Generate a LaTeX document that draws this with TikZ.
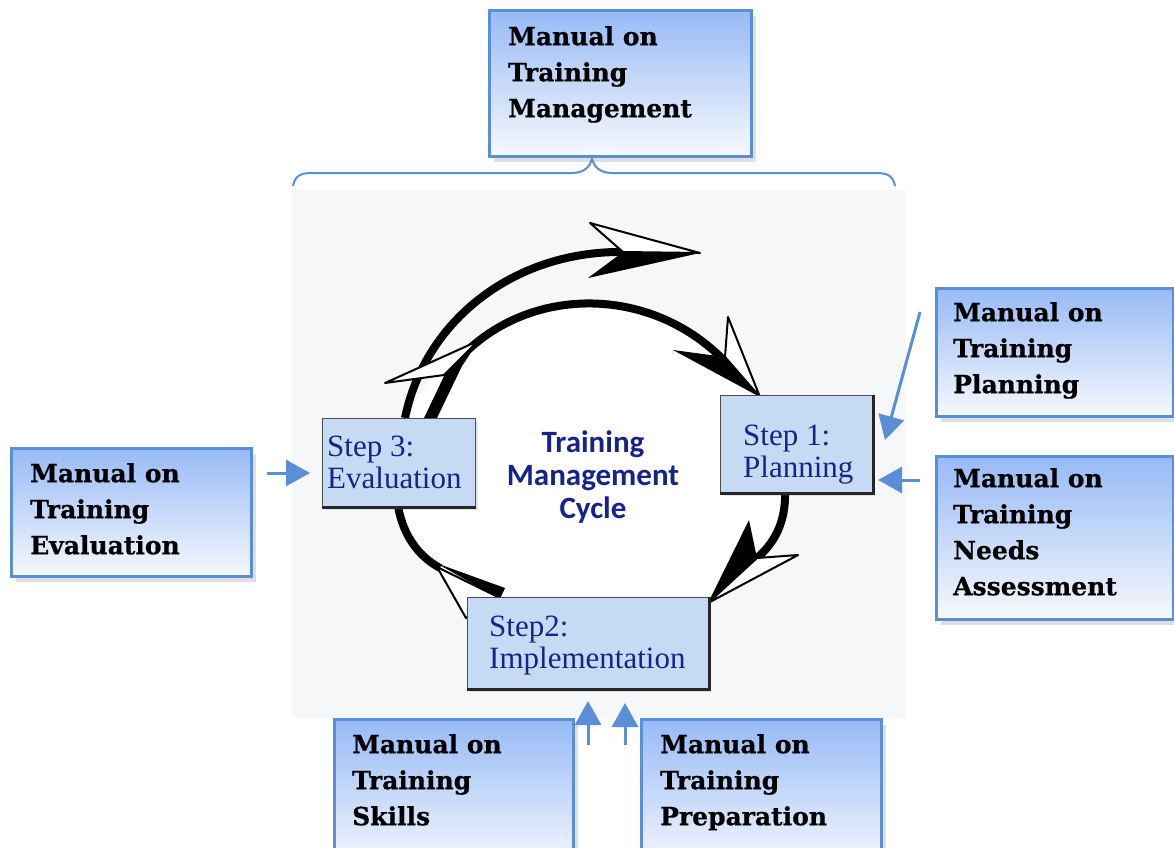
\documentclass[tikz,border=0pt]{standalone}
\usepackage{fontspec}
\setmainfont{Liberation Serif}
\newfontfamily\manfont{DejaVu Serif}[BoldFeatures={FakeBold=0.6}]
\newfontfamily\cycfont{Carlito}
\usetikzlibrary{arrows.meta,shadows,calc}
\definecolor{bblue}{HTML}{5A8ED6}
\definecolor{btop}{HTML}{97BAF6}
\definecolor{bbot}{HTML}{F7F9FD}
\definecolor{stepfill}{HTML}{C6DBF3}
\definecolor{navy}{HTML}{16238A}
\definecolor{bggray}{HTML}{F6F7F9}
\begin{document}
\begin{tikzpicture}[x=1pt,y=-1pt,
  manbox/.style={draw=bblue, line width=3pt, top color=btop, bottom color=bbot, anchor=north west, inner sep=0pt,
     drop shadow={opacity=0.25, shadow xshift=4pt, shadow yshift=-5pt}},
  mantext/.style={anchor=north west, inner sep=0pt, align=left, font=\manfont\bfseries\fontsize{25}{36}\selectfont},
  stepbox/.style={fill=stepfill, draw=black!70, line width=1pt, anchor=north west, inner sep=0pt,
     drop shadow={opacity=0.2, shadow xshift=2pt, shadow yshift=-3pt}},
  stepedge/.style={draw=black!85, line width=3pt},
  steptext/.style={anchor=north west, inner sep=0pt, align=left, text=navy, font=\fontsize{31}{32}\selectfont},
  barrow/.style={draw=bblue, line width=3pt, -{Triangle[length=24pt,width=26pt]}},
  arcline/.style={draw=black, line width=8pt},
  headw/.style={fill=white, draw=black, line width=2pt, line join=round},
  ]
\useasboundingbox (0,0) rectangle (1174,847);
\fill[white] (0,0) rectangle (1174,847);

% background panel
\fill[bggray] (292,190) rectangle (905,718);

% white interior of the cycle
\fill[white] (468,350) .. controls (540,285) and (660,290) .. (735,375) -- (760,397) -- (790,440) -- (785,492)
  .. controls (786,525) and (772,545) .. (757,558) -- (708,603) -- (467,603) -- (440,568)
  .. controls (418,556) and (403,535) .. (398,506) -- (396,450) -- (405,418) -- (430,380) -- cycle;

% brace
\draw[bblue, line width=2pt] (293,186) .. controls (295,176) and (300,173) .. (312,173) -- (572,173)
  .. controls (585,173) and (590,166) .. (592,159) .. controls (594,166) and (599,173) .. (612,173)
  -- (876,173) .. controls (888,173) and (893,176) .. (895,186);

% cycle arcs
\draw[arcline] (405,418) .. controls (425,320) and (515,250) .. (625,252);
\draw[arcline] (468,350) .. controls (540,283) and (660,288) .. (730,367);
\draw[arcline] (785,492) .. controls (786,525) and (772,545) .. (757,558);
\draw[arcline] (398,506) .. controls (403,535) and (418,556) .. (440,568);

% top arrowhead
\fill[black] (623,252) -- (700,253) -- (588,278) -- cycle;
\draw[headw] (623,252) -- (590,223) -- (700,253) -- cycle;
% right arrowhead
\fill[black] (725,357) -- (673,350) -- (760,397) -- cycle;
\draw[headw] (725,357) -- (728,317) -- (760,397) -- cycle;
% lower right arrowhead
\fill[black] (757,558) -- (749,520) -- (708,603) -- cycle;
\draw[headw] (757,558) -- (798,555) -- (708,603) -- cycle;
% left arrowhead
\fill[black] (478,342) -- (445,374) -- (424,418) -- (437,418) -- (462,366) -- cycle;
\draw[headw] (385,383) -- (478,341) -- (444,375) -- cycle;
% lower left arrowhead
\fill[black] (436,563) -- (505,588) -- (500,599) -- cycle;
\draw[headw] (437,567) -- (500,598) -- (466,618) -- cycle;

% step boxes
\node[stepbox, minimum width=152pt, minimum height=97pt] (step1) at (720,395) {};
\draw[stepedge] (step1.south west) -- (step1.south east) -- (step1.north east);
\node[steptext] (step1t) at (743,423) {\rule{0pt}{22pt}Step 1:\\Planning};

\node[stepbox, minimum width=153pt, minimum height=88pt] (step3) at (322,418) {};
\draw[stepedge] (step3.south west) -- (step3.south east);
\node[steptext] (step3t) at (327,434) {\rule{0pt}{22pt}Step 3:\\Evaluation};

\node[stepbox, minimum width=241pt, minimum height=91pt] (step2) at (467,597) {};
\draw[stepedge] (step2.south west) -- (step2.south east) -- (step2.north east);
\node[steptext] (step2t) at (489,614) {\rule{0pt}{22pt}Step2:\\Implementation};

% centre title
\node[anchor=north, inner sep=0pt, align=center, text=navy, font=\cycfont\bfseries\fontsize{31}{33}\selectfont]
  (title) at (593,430) {\rule{0pt}{22pt}Training\\Management\\Cycle};

% manual boxes
\node[manbox, minimum width=262pt, minimum height=146pt] (mgmt) at (488,9) {};
\node[mantext] (mgmtt) at (508,25) {\rule{0pt}{20pt}Manual on\\Training\\Management};

\node[manbox, minimum width=237pt, minimum height=128pt] (plan) at (935,287) {};
\node[mantext] (plant) at (953,301) {\rule{0pt}{20pt}Manual on\\Training\\Planning};

\node[manbox, minimum width=237pt, minimum height=163pt] (needs) at (935,455) {};
\node[mantext] (needst) at (953,467) {\rule{0pt}{20pt}Manual on\\Training\\Needs\\Assessment};

\node[manbox, minimum width=240pt, minimum height=128pt] (evalm) at (10,447) {};
\node[mantext] (evalmt) at (30,462) {\rule{0pt}{20pt}Manual on\\Training\\Evaluation};

\node[manbox, minimum width=239pt, minimum height=150pt] (skills) at (333,718) {};
\node[mantext] (skillst) at (352,733) {\rule{0pt}{20pt}Manual on\\Training\\Skills};

\node[manbox, minimum width=240pt, minimum height=150pt] (prep) at (640,718) {};
\node[mantext] (prept) at (660,733) {\rule{0pt}{20pt}Manual on\\Training\\Preparation};

% blue connectors
\coordinate (cPlan) at (920,312);
\coordinate (cNeeds) at (920,480);
\coordinate (cEval) at (267,473);
\coordinate (cSkills) at (588,745);
\coordinate (cPrep) at (625,745);
\draw[barrow] (cPlan) -- ($(step1.east)+(12,-4)$);
\draw[barrow, shorten >=5pt] (cNeeds) -- (step1.east |- cNeeds);
\draw[barrow, shorten >=12pt] (cEval) -- (step3.west |- cEval);
\draw[barrow, shorten >=12pt] (cSkills) -- (cSkills |- step2.south);
\draw[barrow, shorten >=14pt] (cPrep) -- (cPrep |- step2.south);
\end{tikzpicture}
\end{document}
